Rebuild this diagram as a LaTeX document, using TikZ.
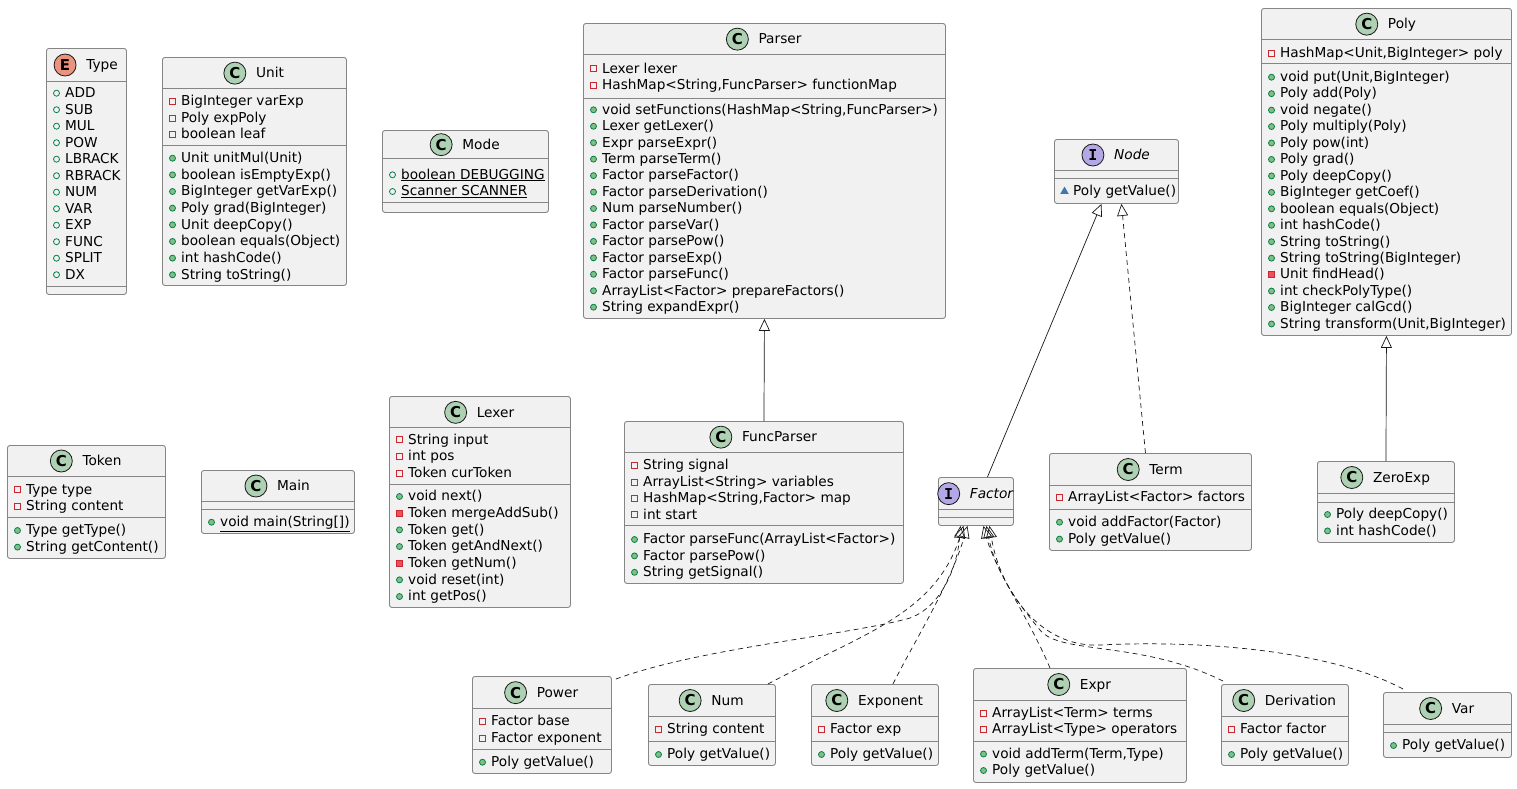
\documentclass[tikz,border=0pt]{standalone}
\usepackage{fontspec}
\setmainfont{DejaVu Sans}
\newfontfamily\monofam{DejaVu Sans Mono}
\usetikzlibrary{arrows.meta,shapes.geometric}
\definecolor{boxfill}{HTML}{F1F1F1}
\definecolor{boxdraw}{HTML}{181818}
\definecolor{bordercol}{HTML}{858585}
\definecolor{cfill}{HTML}{ADD1B2}
\definecolor{efill}{HTML}{EB937F}
\definecolor{ifill}{HTML}{B4A7E5}
\definecolor{pubdraw}{HTML}{038048}
\definecolor{pubfill}{HTML}{84BE84}
\definecolor{privdraw}{HTML}{C82930}
\definecolor{privfill}{HTML}{F24D5C}
\definecolor{pkgfill}{HTML}{4177AF}
\tikzset{
  box/.style={draw=bordercol, fill=boxfill, rounded corners=2.5pt, line width=0.9pt, inner sep=0pt},
  sepline/.style={draw=bordercol, line width=0.9pt},
  title/.style={anchor=base, inner sep=0pt, font=\fontsize{13.7}{16}\selectfont},
  mtxt/.style={anchor=base west, inner sep=0pt, font=\fontsize{13.65}{16}\selectfont},
  hicon/.style={circle, draw=boxdraw, line width=0.8pt, inner sep=0pt, minimum size=22pt, font=\fontsize{15}{15}\selectfont\bfseries},
  icC/.style={fill=cfill},
  icE/.style={fill=efill},
  icI/.style={fill=ifill, font=\fontsize{15}{15}\selectfont\monofam\bfseries},
  vpf/.style={circle, draw=pubdraw, inner sep=0pt, minimum size=6pt, line width=0.8pt},
  vpm/.style={vpf, fill=pubfill},
  vxf/.style={rectangle, draw=privdraw, inner sep=0pt, minimum size=6pt, line width=0.8pt},
  vxm/.style={vxf, fill=privfill},
  vpk/.style={regular polygon, regular polygon sides=3, fill=pkgfill, draw=pkgfill, inner sep=0pt, minimum size=9pt},
  inh/.style={-{Triangle[open,length=12pt,width=11pt]}, draw=boxdraw, line width=0.7pt},
  real/.style={inh, dash pattern=on 5pt off 4pt}
}
% name, x1, y1, x2, y2, hsep, fsep, icon letter, title
\newcommand\classbox[9]{%
  \pgfmathsetmacro\bw{#4-#2}\pgfmathsetmacro\bh{#5-#3}%
  \node[box, anchor=north west, minimum width=\bw pt, minimum height=\bh pt] (#1) at (#2,#3) {};
  \draw[sepline] (#2,#6) -- (#4,#6);
  \draw[sepline] (#2,#7) -- (#4,#7);
  \node[title] (#1-t) at ({(#2+#4)/2+16},{(#3+#6)/2+0.5+4.8}) {#9};
  \node[hicon, ic#8] (#1-i) at ([xshift=-21pt, yshift=4.8pt]#1-t.base west) {#8};
}
% x1, y0, step, list
\newcommand\rows[4]{%
  \foreach \mv/\mt [count=\mi from 0] in {#4} {
    \node[\mv] at ({#1+10.5},{#2+\mi*#3+0.5}) {};
    \node[mtxt] at ({#1+19},{#2+\mi*#3+4.8}) {\mt};
  }%
}
\begin{document}
\begin{tikzpicture}[x=1pt,y=-1pt]
\useasboundingbox (0,0) rectangle (1517,788);
\fill[white] (0,0) rectangle (1517,788);

\classbox{type}{46}{48}{126}{294}{81}{286}{E}{Type}
\rows{46}{92.7}{16.5}{vpf/ADD,vpf/SUB,vpf/MUL,vpf/POW,vpf/LBRACK,vpf/RBRACK,vpf/NUM,vpf/VAR,vpf/EXP,vpf/FUNC,vpf/SPLIT,vpf/DX}

\classbox{unit}{162}{57}{346}{285}{88.3}{145.7}{C}{Unit}
\rows{162}{101}{16.5}{vxf/BigInteger varExp,vxf/Poly expPoly,vxf/boolean leaf}
\rows{162}{157.7}{16.65}{vpm/Unit unitMul(Unit),vpm/boolean isEmptyExp(),vpm/BigInteger getVarExp(),vpm/Poly grad(BigInteger),vpm/Unit deepCopy(),vpm/boolean equals(Object),vpm/int hashCode(),vpm/String toString()}

\classbox{mode}{382}{130}{548}{212}{158.3}{202.3}{C}{Mode}
\rows{382}{174.3}{16.7}{vpf/{\underline{boolean DEBUGGING}},vpf/{\underline{Scanner SCANNER}}}

\classbox{parser}{583}{23}{945}{318}{54.3}{98.3}{C}{Parser}
\rows{583}{68.3}{16.6}{vxf/Lexer lexer,vxf/{HashMap<String,FuncParser> functionMap}}
\rows{583}{109.3}{16.45}{vpm/{void setFunctions(HashMap<String,FuncParser>)},vpm/Lexer getLexer(),vpm/Expr parseExpr(),vpm/Term parseTerm(),vpm/Factor parseFactor(),vpm/Factor parseDerivation(),vpm/Num parseNumber(),vpm/Factor parseVar(),vpm/Factor parsePow(),vpm/Factor parseExp(),vpm/Factor parseFunc(),vpm/{ArrayList<Factor> prepareFactors()},vpm/String expandExpr()}

\classbox{poly}{1261}{8}{1511}{335}{39.3}{63.3}{C}{Poly}
\rows{1261}{52.7}{16.45}{vxf/{HashMap<Unit,BigInteger> poly}}
\rows{1261}{76.7}{16.45}{vpm/{void put(Unit,BigInteger)},vpm/Poly add(Poly),vpm/void negate(),vpm/Poly multiply(Poly),vpm/Poly pow(int),vpm/Poly grad(),vpm/Poly deepCopy(),vpm/BigInteger getCoef(),vpm/boolean equals(Object),vpm/int hashCode(),vpm/String toString(),vpm/String toString(BigInteger),vxm/Unit findHead(),vpm/int checkPolyType(),vpm/BigInteger calGcd(),vpm/{String transform(Unit,BigInteger)}}

\classbox{node}{1054}{139}{1178}{203}{170}{178.3}{I}{\itshape Node}
\rows{1054}{191}{16}{vpk/Poly getValue()}

\classbox{token}{7}{445}{165}{558}{476}{517.3}{C}{Token}
\rows{7}{489.3}{16.6}{vxf/Type type,vxf/String content}
\rows{7}{530}{16.6}{vpm/Type getType(),vpm/String getContent()}

\classbox{main}{201}{470}{354}{533}{501}{509.3}{C}{Main}
\rows{201}{521.7}{16}{vpm/{\underline{void main(String[])}}}

\classbox{lexer}{389}{396}{570}{607}{427.7}{484.3}{C}{Lexer}
\rows{389}{439.3}{16.7}{vxf/String input,vxf/int pos,vxf/Token curToken}
\rows{389}{496}{16.67}{vpm/void next(),vxm/Token mergeAddSub(),vpm/Token get(),vpm/Token getAndNext(),vxm/Token getNum(),vpm/void reset(int),vpm/int getPos()}

\classbox{funcparser}{624}{421}{903}{583}{452.3}{525}{C}{FuncParser}
\rows{624}{465}{16.4}{vxf/String signal,vxf/{ArrayList<String> variables},vxf/{HashMap<String,Factor> map},vxf/int start}
\rows{624}{539}{16.4}{vpm/{Factor parseFunc(ArrayList<Factor>)},vpm/Factor parsePow(),vpm/String getSignal()}

\classbox{factor}{938}{477}{1013}{525}{509.3}{517.3}{I}{\itshape Factor}

\classbox{term}{1049}{453}{1251}{550}{485}{509}{C}{Term}
\rows{1049}{497}{16.5}{vxf/{ArrayList<Factor> factors}}
\rows{1049}{521.7}{16.9}{vpm/void addFactor(Factor),vpm/Poly getValue()}

\classbox{zeroexp}{1317}{461}{1454}{542}{493}{502}{C}{ZeroExp}
\rows{1317}{514}{16.4}{vpm/Poly deepCopy(),vpm/int hashCode()}

\classbox{power}{472}{676}{611}{773}{708.3}{749.3}{C}{Power}
\rows{472}{721}{16.4}{vxf/Factor base,vxf/Factor exponent}
\rows{472}{761.7}{16}{vpm/Poly getValue()}

\classbox{num}{648}{684}{775}{765}{716}{741}{C}{Num}
\rows{648}{729}{16}{vxf/String content}
\rows{648}{754}{16}{vpm/Poly getValue()}

\classbox{exponent}{811}{684}{938}{765}{716}{741}{C}{Exponent}
\rows{811}{729}{16}{vxf/Factor exp}
\rows{811}{754}{16}{vpm/Poly getValue()}

\classbox{expr}{973}{668}{1186}{782}{700}{741}{C}{Expr}
\rows{973}{712.5}{16.5}{vxf/{ArrayList<Term> terms},vxf/{ArrayList<Type> operators}}
\rows{973}{753.5}{16.5}{vpm/{void addTerm(Term,Type)},vpm/Poly getValue()}

\classbox{derivation}{1221}{684}{1348}{765}{716}{741}{C}{Derivation}
\rows{1221}{729}{16}{vxf/Factor factor}
\rows{1221}{754}{16}{vpm/Poly getValue()}

\classbox{var}{1383}{692}{1511}{757}{724}{732}{C}{Var}
\rows{1383}{745}{16}{vpm/Poly getValue()}

% connectors
\draw[inh] (funcparser.north) -- (parser.south);
\draw[inh] (zeroexp.north) -- (poly.south);
\draw[inh] ([xshift=11.5pt]factor.north) -- ([xshift=-15pt]node.south);
\draw[real] ([xshift=-5pt]term.north) -- ([xshift=5pt]node.south);

\draw[real] ([xshift=4pt,yshift=-3pt]power.north east) .. controls (700,648) and (850,635) .. (910,618) .. controls (945,605) and (958,560) .. ([xshift=-15.5pt]factor.south);
\draw[real] ([xshift=-8pt]num.north east) .. controls (860,635) and (935,615) .. ([xshift=-12.5pt]factor.south);
\draw[real] ([xshift=18pt]exponent.north) .. controls (915,640) and (950,585) .. ([xshift=-8.5pt]factor.south);
\draw[real] ([xshift=-30pt]expr.north) .. controls (1030,620) and (995,570) .. ([xshift=7.5pt]factor.south);
\draw[real] ([xshift=2pt,yshift=3pt]derivation.north west) .. controls (1140,640) and (1060,655) .. (1040,630) .. controls (1015,600) and (995,570) .. ([xshift=10.5pt]factor.south);
\draw[real] ([xshift=20pt,yshift=3pt]var.north west) .. controls (1330,650) and (1200,640) .. (1100,645) .. controls (1040,648) and (1000,590) .. ([xshift=13.5pt]factor.south);
\end{tikzpicture}
\end{document}
